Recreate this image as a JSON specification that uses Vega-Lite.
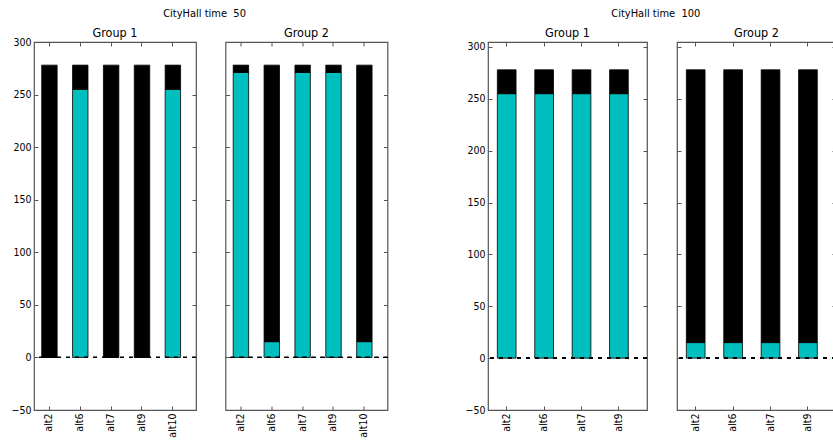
{
  "$schema": "https://vega.github.io/schema/vega-lite/v6.json",
  "padding": {"left": 10, "top": 7, "right": 0, "bottom": 0},
  "config": {
    "font": "DejaVu Sans Condensed",
    "view": {"stroke": "#555", "strokeWidth": 1.2},
    "axis": {"domain": false, "grid": false, "ticks": true, "tickSize": -4, "tickColor": "#555", "tickWidth": 1, "labelFontSize": 10.5, "labelColor": "#000", "labelPadding": 7, "minExtent": 0},
    "title": {"fontSize": 12.5, "fontWeight": "normal", "color": "#000", "offset": 2.5}
  },
  "data": {"values": [
    {"time": 50, "group": "Group 1", "alt": "alt2", "part": "cyan", "value": 0},
    {"time": 50, "group": "Group 1", "alt": "alt2", "part": "black", "value": 278},
    {"time": 50, "group": "Group 1", "alt": "alt6", "part": "cyan", "value": 255},
    {"time": 50, "group": "Group 1", "alt": "alt6", "part": "black", "value": 23},
    {"time": 50, "group": "Group 1", "alt": "alt7", "part": "cyan", "value": 0},
    {"time": 50, "group": "Group 1", "alt": "alt7", "part": "black", "value": 278},
    {"time": 50, "group": "Group 1", "alt": "alt9", "part": "cyan", "value": 0},
    {"time": 50, "group": "Group 1", "alt": "alt9", "part": "black", "value": 278},
    {"time": 50, "group": "Group 1", "alt": "alt10", "part": "cyan", "value": 255},
    {"time": 50, "group": "Group 1", "alt": "alt10", "part": "black", "value": 23},
    {"time": 50, "group": "Group 2", "alt": "alt2", "part": "cyan", "value": 271},
    {"time": 50, "group": "Group 2", "alt": "alt2", "part": "black", "value": 7},
    {"time": 50, "group": "Group 2", "alt": "alt6", "part": "cyan", "value": 15},
    {"time": 50, "group": "Group 2", "alt": "alt6", "part": "black", "value": 263},
    {"time": 50, "group": "Group 2", "alt": "alt7", "part": "cyan", "value": 271},
    {"time": 50, "group": "Group 2", "alt": "alt7", "part": "black", "value": 7},
    {"time": 50, "group": "Group 2", "alt": "alt9", "part": "cyan", "value": 271},
    {"time": 50, "group": "Group 2", "alt": "alt9", "part": "black", "value": 7},
    {"time": 50, "group": "Group 2", "alt": "alt10", "part": "cyan", "value": 15},
    {"time": 50, "group": "Group 2", "alt": "alt10", "part": "black", "value": 263},
    {"time": 100, "group": "Group 1", "alt": "alt2", "part": "cyan", "value": 255},
    {"time": 100, "group": "Group 1", "alt": "alt2", "part": "black", "value": 23},
    {"time": 100, "group": "Group 1", "alt": "alt6", "part": "cyan", "value": 255},
    {"time": 100, "group": "Group 1", "alt": "alt6", "part": "black", "value": 23},
    {"time": 100, "group": "Group 1", "alt": "alt7", "part": "cyan", "value": 255},
    {"time": 100, "group": "Group 1", "alt": "alt7", "part": "black", "value": 23},
    {"time": 100, "group": "Group 1", "alt": "alt9", "part": "cyan", "value": 255},
    {"time": 100, "group": "Group 1", "alt": "alt9", "part": "black", "value": 23},
    {"time": 100, "group": "Group 2", "alt": "alt2", "part": "cyan", "value": 15},
    {"time": 100, "group": "Group 2", "alt": "alt2", "part": "black", "value": 263},
    {"time": 100, "group": "Group 2", "alt": "alt6", "part": "cyan", "value": 15},
    {"time": 100, "group": "Group 2", "alt": "alt6", "part": "black", "value": 263},
    {"time": 100, "group": "Group 2", "alt": "alt7", "part": "cyan", "value": 15},
    {"time": 100, "group": "Group 2", "alt": "alt7", "part": "black", "value": 263},
    {"time": 100, "group": "Group 2", "alt": "alt9", "part": "cyan", "value": 15},
    {"time": 100, "group": "Group 2", "alt": "alt9", "part": "black", "value": 263}
  ]},
  "spacing": 75,
  "hconcat": [
    {
      "title": {"text": "CityHall time \u00a050", "anchor": "middle", "dx": 5, "offset": 7, "fontSize": 11},
      "spacing": 25.5,
      "hconcat": [
        {
          "title": {"text": "Group 1", "offset": -2.5},
          "width": 162, "height": 368,
          "transform": [{"filter": "datum.time == 50 && datum.group == 'Group 1'"}],
          "layer": [
            {"mark": {"type": "bar", "stroke": "#000", "strokeWidth": 0.8},
             "encoding": {
               "x": {"field": "alt", "type": "nominal", "sort": ["alt2", "alt6", "alt7", "alt9", "alt10"], "scale": {"paddingInner": 0.5, "paddingOuter": 0.375, "align": 0.3333}, "axis": {"orient": "bottom", "title": null, "labelAngle": -90}},
               "y": {"field": "value", "type": "quantitative", "stack": "zero", "scale": {"domain": [-50, 300], "nice": false, "zero": false}, "axis": {"orient": "left", "title": null, "values": [-50, 0, 50, 100, 150, 200, 250, 300]}},
               "color": {"field": "part", "type": "nominal", "scale": {"domain": ["cyan", "black"], "range": ["#00BFBF", "#000000"]}, "legend": null},
               "order": {"field": "part", "sort": "descending"}
             }},
            {"mark": {"type": "rule", "color": "#000", "strokeDash": [4, 5], "strokeWidth": 1},
             "encoding": {"y": {"datum": 0, "type": "quantitative", "scale": {"domain": [-50, 300], "nice": false, "zero": false}, "axis": {"orient": "right", "title": null, "labels": false, "values": [-50, 0, 50, 100, 150, 200, 250, 300]}}}},
            {"mark": {"type": "tick", "opacity": 0},
             "encoding": {"x": {"field": "alt", "type": "nominal", "sort": ["alt2", "alt6", "alt7", "alt9", "alt10"], "axis": {"orient": "top", "title": null, "labels": false}}}}
          ],
          "resolve": {"axis": {"x": "independent", "y": "independent"}}
        },
        {
          "title": {"text": "Group 2", "offset": 2.5},
          "width": 162, "height": 368,
          "transform": [{"filter": "datum.time == 50 && datum.group == 'Group 2'"}],
          "layer": [
            {"mark": {"type": "bar", "stroke": "#000", "strokeWidth": 0.8},
             "encoding": {
               "x": {"field": "alt", "type": "nominal", "sort": ["alt2", "alt6", "alt7", "alt9", "alt10"], "scale": {"paddingInner": 0.5, "paddingOuter": 0.375, "align": 0.3333}, "axis": {"orient": "bottom", "title": null, "labelAngle": -90}},
               "y": {"field": "value", "type": "quantitative", "stack": "zero", "scale": {"domain": [-50, 300], "nice": false, "zero": false}, "axis": {"orient": "left", "title": null, "labels": false, "values": [-50, 0, 50, 100, 150, 200, 250, 300]}},
               "color": {"field": "part", "type": "nominal", "scale": {"domain": ["cyan", "black"], "range": ["#00BFBF", "#000000"]}, "legend": null},
               "order": {"field": "part", "sort": "descending"}
             }},
            {"mark": {"type": "rule", "color": "#000", "strokeDash": [4, 5], "strokeWidth": 1},
             "encoding": {"y": {"datum": 0, "type": "quantitative", "scale": {"domain": [-50, 300], "nice": false, "zero": false}, "axis": {"orient": "right", "title": null, "labels": false, "values": [-50, 0, 50, 100, 150, 200, 250, 300]}}}},
            {"mark": {"type": "tick", "opacity": 0},
             "encoding": {"x": {"field": "alt", "type": "nominal", "sort": ["alt2", "alt6", "alt7", "alt9", "alt10"], "axis": {"orient": "top", "title": null, "labels": false}}}}
          ],
          "resolve": {"axis": {"x": "independent", "y": "independent"}}
        }
      ]
    },
    {
      "title": {"text": "CityHall time \u00a0100", "anchor": "middle", "dx": 5, "offset": 7, "fontSize": 11},
      "spacing": 26,
      "hconcat": [
        {
          "title": {"text": "Group 1", "offset": 2.5},
          "width": 159, "height": 368,
          "transform": [{"filter": "datum.time == 100 && datum.group == 'Group 1'"}],
          "layer": [
            {"mark": {"type": "bar", "stroke": "#000", "strokeWidth": 0.8},
             "encoding": {
               "x": {"field": "alt", "type": "nominal", "sort": ["alt2", "alt6", "alt7", "alt9"], "scale": {"paddingInner": 0.5, "paddingOuter": 0.375, "align": 0.3333}, "axis": {"orient": "bottom", "title": null, "labelAngle": -90}},
               "y": {"field": "value", "type": "quantitative", "stack": "zero", "scale": {"domain": [-50, 304.8], "nice": false, "zero": false}, "axis": {"orient": "left", "title": null, "values": [-50, 0, 50, 100, 150, 200, 250, 300]}},
               "color": {"field": "part", "type": "nominal", "scale": {"domain": ["cyan", "black"], "range": ["#00BFBF", "#000000"]}, "legend": null},
               "order": {"field": "part", "sort": "descending"}
             }},
            {"mark": {"type": "rule", "color": "#000", "strokeDash": [4, 5], "strokeWidth": 1},
             "encoding": {"y": {"datum": 0, "type": "quantitative", "scale": {"domain": [-50, 304.8], "nice": false, "zero": false}, "axis": {"orient": "right", "title": null, "labels": false, "values": [-50, 0, 50, 100, 150, 200, 250, 300]}}}},
            {"mark": {"type": "tick", "opacity": 0},
             "encoding": {"x": {"field": "alt", "type": "nominal", "sort": ["alt2", "alt6", "alt7", "alt9"], "axis": {"orient": "top", "title": null, "labels": false}}}}
          ],
          "resolve": {"axis": {"x": "independent", "y": "independent"}}
        },
        {
          "title": {"text": "Group 2", "offset": 2.5},
          "width": 159, "height": 368,
          "transform": [{"filter": "datum.time == 100 && datum.group == 'Group 2'"}],
          "layer": [
            {"mark": {"type": "bar", "stroke": "#000", "strokeWidth": 0.8},
             "encoding": {
               "x": {"field": "alt", "type": "nominal", "sort": ["alt2", "alt6", "alt7", "alt9"], "scale": {"paddingInner": 0.5, "paddingOuter": 0.375, "align": 0.3333}, "axis": {"orient": "bottom", "title": null, "labelAngle": -90}},
               "y": {"field": "value", "type": "quantitative", "stack": "zero", "scale": {"domain": [-50, 304.8], "nice": false, "zero": false}, "axis": {"orient": "left", "title": null, "labels": false, "values": [-50, 0, 50, 100, 150, 200, 250, 300]}},
               "color": {"field": "part", "type": "nominal", "scale": {"domain": ["cyan", "black"], "range": ["#00BFBF", "#000000"]}, "legend": null},
               "order": {"field": "part", "sort": "descending"}
             }},
            {"mark": {"type": "rule", "color": "#000", "strokeDash": [4, 5], "strokeWidth": 1},
             "encoding": {"y": {"datum": 0, "type": "quantitative", "scale": {"domain": [-50, 304.8], "nice": false, "zero": false}, "axis": {"orient": "right", "title": null, "labels": false, "values": [-50, 0, 50, 100, 150, 200, 250, 300]}}}},
            {"mark": {"type": "tick", "opacity": 0},
             "encoding": {"x": {"field": "alt", "type": "nominal", "sort": ["alt2", "alt6", "alt7", "alt9"], "axis": {"orient": "top", "title": null, "labels": false}}}}
          ],
          "resolve": {"axis": {"x": "independent", "y": "independent"}}
        }
      ]
    }
  ]
}
